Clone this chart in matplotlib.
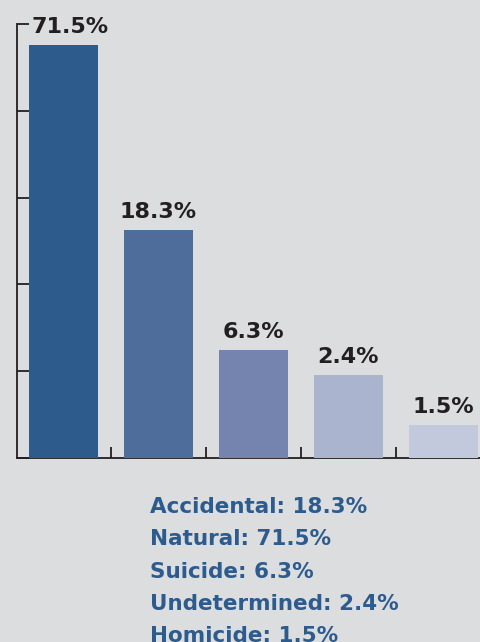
import matplotlib.pyplot as plt
import numpy as np

plt.rcParams['font.family'] = ['DejaVu Sans']

# shares in percent, in bar order
shares = [71.5, 18.3, 6.3, 2.4, 1.5]
# drawn bar heights on the chart's unlabelled 0-100 scale (the graphic is not to scale)
bar_heights = [95.2, 52.5, 24.9, 19.1, 7.6]
bar_colors = ['#2d5b8c', '#4f6d9a', '#7484ae', '#aab4cf', '#c2c9dd']

legend_lines = ['Accidental: 18.3%', 'Natural: 71.5%', 'Suicide: 6.3%',
                'Undetermined: 2.4%', 'Homicide: 1.5%']

bg = '#dcdddf'
ink = '#231f20'
blue = '#2d5b8e'

fig = plt.figure(figsize=(4.81, 6.42), dpi=100, facecolor=bg)
ax = fig.add_axes([17 / 481, 184 / 642, 464 / 481, 434 / 642])
ax.set_facecolor(bg)

x = np.arange(len(shares))
ax.bar(x, bar_heights, width=0.726, color=bar_colors, zorder=1)

ax.set_xlim(-0.489, 4.395)
ax.set_ylim(0, 100)
ax.set_yticks(np.arange(0, 101, 20))
ax.set_xticks(x[:-1] + 0.5)
ax.set_yticklabels([])
ax.set_xticklabels([])
ax.tick_params(axis='y', direction='in', length=8.6, width=1.3, color=ink)
ax.tick_params(axis='x', direction='in', length=8, width=1.3, color=ink)
for s in ['top', 'right']:
    ax.spines[s].set_visible(False)
for s in ['left', 'bottom']:
    ax.spines[s].set_color(ink)
    ax.spines[s].set_linewidth(1.3)
ax.spines['left'].set_zorder(3)
ax.spines['bottom'].set_zorder(0)

# value labels above the bars
dx = [5, 0, 0, 0, 0]
for xi, h, v, d in zip(x, bar_heights, shares, dx):
    ax.annotate(f'{v}%', (xi, h), xytext=(d, 8.6), textcoords='offset points',
                ha='center', va='baseline', fontsize=16, fontweight='bold',
                color=ink, annotation_clip=False)

# text legend under the chart
for i, line in enumerate(legend_lines):
    fig.text(150 / 481, (642 - 513 - i * 32.25) / 642, line, ha='left',
             va='baseline', fontsize=15.5, fontweight='bold', color=blue)

fig.savefig('out.png', dpi=100, facecolor=bg)
